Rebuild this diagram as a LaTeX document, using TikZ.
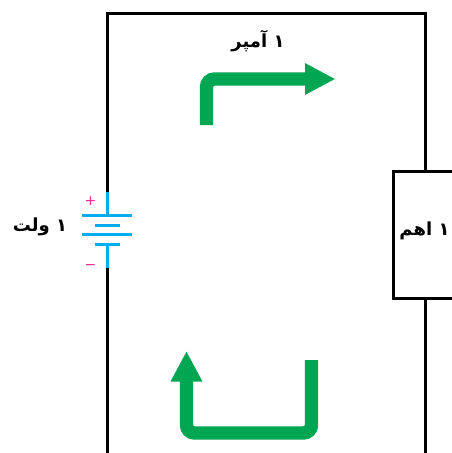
\documentclass[tikz,border=0pt]{standalone}
\usepackage{fontspec}
\usetikzlibrary{arrows.meta,positioning}
\newfontfamily\arabicfont[Script=Arabic]{DejaVu Sans}
\newfontfamily\signfont{DejaVu Sans}
\TeXXeTstate=1
\definecolor{flowgreen}{HTML}{00A651}
\definecolor{cellblue}{HTML}{00AEEF}
\definecolor{signpink}{HTML}{EC2C91}
\begin{document}
\begin{tikzpicture}[
    x=1pt, y=-1pt,
    wire/.style={draw=black, line width=3pt},
    stub/.style={draw=cellblue, line width=3pt},
    plate/.style={draw=cellblue, line width=3pt},
    flow/.style={draw=flowgreen, line width=13.4pt, rounded corners=8pt, -{Triangle[length=30.5pt,width=29.5pt,fill=flowgreen]}},
    label/.style={font=\arabicfont\bfseries\fontsize{18pt}{20pt}\selectfont, inner sep=0pt},
    sign/.style={text=signpink, font=\signfont\fontsize{14pt}{14pt}\selectfont, inner sep=0pt}
]
\useasboundingbox (0,0) rectangle (452,453);

% Resistor
\node[wire, minimum width=64pt, minimum height=127pt, inner sep=0pt] (res) at (425,234.5) {};
\node[label] (res_txt) at (424.5,231) {\beginR ۱ اهم\endR};

% Battery
\coordinate (bat_top) at (107,192);
\coordinate (plate_a) at (107,215);
\coordinate (plate_d) at (107,244);
\coordinate (bat_bot) at (107,268);
\coordinate (plate_al) at (82,215);
\coordinate (plate_ar) at (132,215);
\coordinate (plate_bl) at (95,225);
\coordinate (plate_br) at (120,225);
\coordinate (plate_cl) at (82,234.5);
\coordinate (plate_cr) at (132,234.5);
\coordinate (plate_dl) at (95,244);
\coordinate (plate_dr) at (120,244);
\node[sign] (plus) at (90.5,201) {+};
\node[sign] (minus) at (90.5,267.5) {−};
\node[label] (bat_txt) at (40,227) {\beginR ۱ ولت\endR};

\draw[stub] (bat_top) -- (plate_a);
\draw[stub] (plate_d) -- (bat_bot);
\draw[plate] (plate_al) -- (plate_ar);
\draw[plate] (plate_bl) -- (plate_br);
\draw[plate] (plate_cl) -- (plate_cr);
\draw[plate] (plate_dl) -- (plate_dr);

% Wires
\coordinate (top_l) at (107,13);
\coordinate (top_r) at (425,13);
\coordinate (bot_l) at (107,453);
\coordinate (bot_r) at (425,453);
\draw[wire] (bat_top) -- (top_l) -- (top_r) -- (res.north);
\draw[wire] (bat_bot) -- (bot_l);
\draw[wire] (res.south) -- (bot_r);

% Current arrows
\node[label] (amp_txt) at (258,41) {\beginR ۱ آمپر\endR};
\coordinate (up_start) at (206.5,125);
\coordinate (up_bend) at (206.5,79);
\coordinate (up_end) at (335.5,79);
\draw[flow] (up_start) -- (up_bend) -- (up_end);
\coordinate (lo_start) at (311.5,360);
\coordinate (lo_b) at (311.5,433);
\coordinate (lo_c) at (186.5,433);
\coordinate (lo_end) at (186.5,351);
\draw[flow] (lo_start) -- (lo_b) -- (lo_c) -- (lo_end);

\end{tikzpicture}
\end{document}
